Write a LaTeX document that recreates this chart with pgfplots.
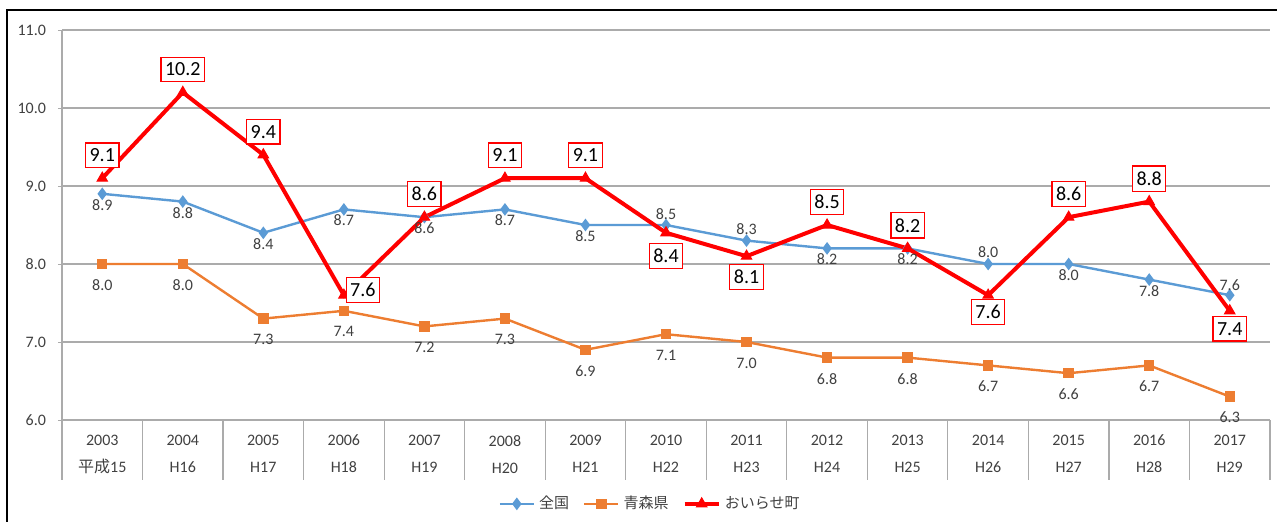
\documentclass[border=0pt]{standalone}
\usepackage{pgfplots}
\pgfplotsset{compat=1.18}
\usepackage{pgfplotstable}
\usepackage{fontspec}
\setmainfont{Carlito}
\newfontfamily\cjk{Noto Sans CJK JP}
\usetikzlibrary{calc}

\definecolor{zenkoku}{HTML}{5B9BD5}
\definecolor{aomori}{HTML}{ED7D31}
\definecolor{gridgray}{HTML}{ABABAB}
\definecolor{txt}{HTML}{404040}

% x = year index (2003 = 0), dx/dy = label offset in pt
\pgfplotstableread{
x y dx dy
0 8.9 0 -5.5
1 8.8 0 -5.5
2 8.4 0 -5.5
3 8.7 0 -5.5
4 8.6 0 -5.5
5 8.7 0 -5.5
6 8.5 0 -5.5
7 8.5 0 5.5
8 8.3 0 6
9 8.2 0 -5.5
10 8.2 0 -5.5
11 8.0 0 6
12 8.0 0 -5.5
13 7.8 0 -5.5
14 7.6 0 5
}\zenkokutbl

\pgfplotstableread{
x y dx dy
0 8.0 0 -10.5
1 8.0 0 -10.5
2 7.3 0 -10.5
3 7.4 0 -10.5
4 7.2 0 -10.5
5 7.3 0 -10.5
6 6.9 0 -10.5
7 7.1 0 -10.5
8 7.0 0 -10.5
9 6.8 0 -10.5
10 6.8 0 -10.5
11 6.7 0 -10.5
12 6.6 0 -10.5
13 6.7 0 -10.5
14 6.3 0 -10.5
}\aomoritbl

\pgfplotstableread{
x y dx dy
0 9.1 0 11.5
1 10.2 0 11.5
2 9.4 0 11.5
3 7.6 9.5 2.5
4 8.6 0 11.5
5 9.1 0 11.5
6 9.1 0 11.5
7 8.4 0 -11.5
8 8.1 0 -10.5
9 8.5 0 11.5
10 8.2 0 11.5
11 7.6 0 -8.5
12 8.6 0 11.5
13 8.8 0 11.5
14 7.4 0 -9
}\oiresetbl

\begin{document}
\begin{tikzpicture}
\begin{axis}[
    scale only axis, width=604pt, height=195pt,
    xmin=-0.5, xmax=14.5, ymin=6, ymax=11,
    clip=false,
    separate axis lines,
    axis x line*=bottom, axis y line*=left,
    axis line style={-, draw=gridgray, line width=0.6pt},
    ytick={6,7,...,11},
    ymajorgrids, grid style={gridgray, line width=0.6pt},
    ytick style={draw=gridgray}, tick align=outside, major tick length=2pt,
    xtick={0,...,14}, xtick style={draw=none},
    xticklabels={{2003\\{\cjk 平成}15},{2004\\H16},{2005\\H17},{2006\\H18},{2007\\H19},
      {2008\\H20},{2009\\H21},{2010\\H22},{2011\\H23},{2012\\H24},{2013\\H25},
      {2014\\H26},{2015\\H27},{2016\\H28},{2017\\H29}},
    x tick label style={align=center, text=txt, yshift=-2pt,
      font=\fontsize{8}{13.5}\selectfont},
    yticklabel style={text=txt, xshift=-2.5pt, font=\fontsize{8}{9}\selectfont,
      /pgf/number format/.cd, fixed, fixed zerofill, precision=1, assume math mode=true},
    legend style={at={(0.4876,-0.215)}, anchor=center, draw=none, fill=none,
      legend columns=3, font=\cjk\fontsize{7.5}{9}\selectfont, text=txt,
      /tikz/every even column/.append style={column sep=5pt}},
    legend cell align=left,
]
\coordinate (O) at (rel axis cs:0,0);
\pgfplotsinvokeforeach{-0.5,0.5,...,14.5}{
  \draw[gridgray, line width=0.6pt] (axis cs:#1,6) -- ++(0pt,-30pt);
}

\addplot[zenkoku, line width=1.2pt, mark=diamond*, mark size=2.2pt,
  nodes near coords, point meta=explicit symbolic,
  visualization depends on={\thisrow{dx}\as\dx},
  visualization depends on={\thisrow{dy}\as\dy},
  nodes near coords style={anchor=center, xshift=\dx pt, yshift=\dy pt,
    text=txt, font=\fontsize{8}{9}\selectfont}]
  table[x=x, y=y, meta=y] {\zenkokutbl};
\addlegendentry{全国}

\addplot[aomori, line width=1.2pt, mark=square*, mark size=2pt,
  nodes near coords, point meta=explicit symbolic,
  visualization depends on={\thisrow{dx}\as\dx},
  visualization depends on={\thisrow{dy}\as\dy},
  nodes near coords style={anchor=center, xshift=\dx pt, yshift=\dy pt,
    text=txt, font=\fontsize{8}{9}\selectfont}]
  table[x=x, y=y, meta=y] {\aomoritbl};
\addlegendentry{青森県}

\addplot[red, line width=2pt, mark=triangle*, mark size=3pt, mark options={line width=0.5pt},
  nodes near coords, point meta=explicit symbolic,
  visualization depends on={\thisrow{dx}\as\dx},
  visualization depends on={\thisrow{dy}\as\dy},
  nodes near coords style={anchor=center, xshift=\dx pt, yshift=\dy pt,
    draw=red, line width=0.6pt, fill=white, text=black, inner xsep=2pt, inner ysep=2.8pt,
    font=\fontsize{10}{11}\selectfont}]
  table[x=x, y=y, meta=y] {\oiresetbl};
\addlegendentry{おいらせ町}
\end{axis}
\pgfresetboundingbox
\path[use as bounding box] ($(O)+(-31pt,-50.5pt)$) rectangle ++(638.5pt,260.5pt);
\draw[black, line width=1.4pt] ($(O)+(-27.5pt,-60pt)$) -- ($(O)+(-27.5pt,205pt)$) -- ($(O)+(620pt,205pt)$);
\end{tikzpicture}
\end{document}
